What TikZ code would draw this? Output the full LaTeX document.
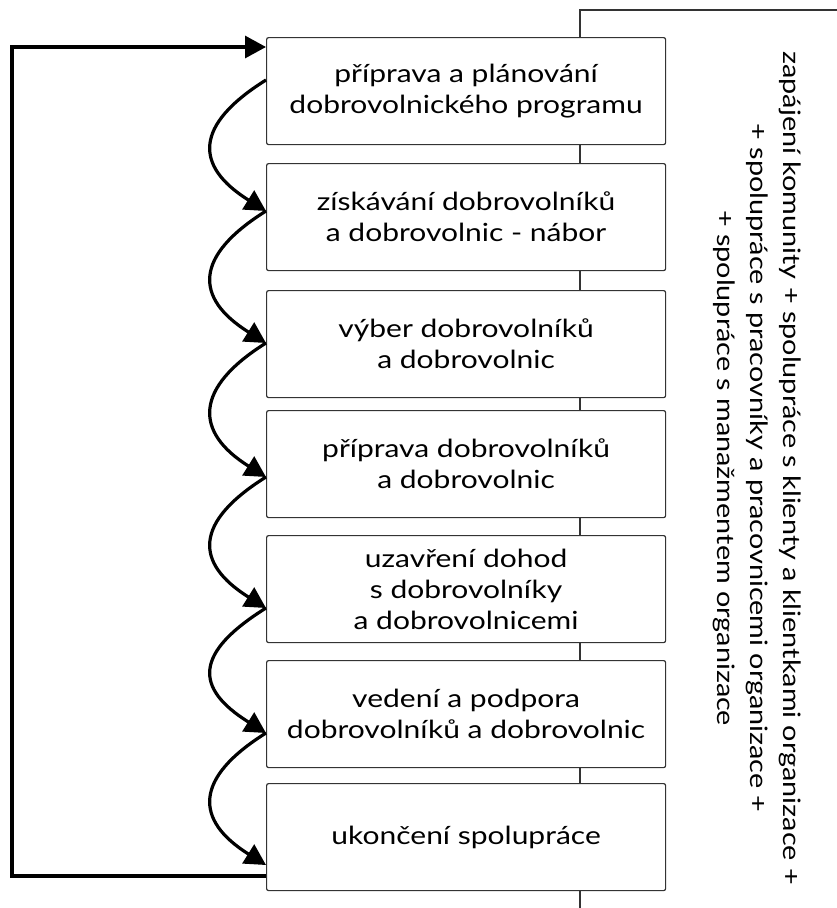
\documentclass[tikz,border=0pt]{standalone}
\usepackage{fontspec}
\setmainfont{Lato}[FakeStretch=1.2]
\usetikzlibrary{arrows.meta,calc}
\definecolor{edgegray}{HTML}{333333}
\tikzset{
  stepbox/.style={draw=edgegray, line width=1.2pt, rounded corners=2pt, fill=white,
    minimum width=399pt, minimum height=107pt, anchor=north west, align=center,
    inner sep=0pt, font=\fontsize{25}{31}\selectfont},
  flowarr/.style={line width=3.2pt, -{Triangle[length=21pt,width=22pt]}},
  thinline/.style={draw=edgegray, line width=1.2pt}
}
\begin{document}
\begin{tikzpicture}[x=1pt,y=1pt]
\useasboundingbox (0,0) rectangle (837,-908);
% right frame line
\coordinate (rtop) at (580,-10);
\coordinate (rcorner) at (837,-10);
\coordinate (rbot) at (580,-908);
\draw[thinline] (rcorner) -- (rtop) -- (rbot);
% boxes
\node[stepbox] (b1) at (266,-37) {příprava a plánování\\dobrovolnického programu};
\node[stepbox] (b2) at (266,-163) {získávání dobrovolníků\\a dobrovolnic - nábor};
\node[stepbox] (b3) at (266,-290) {výber dobrovolníků\\a dobrovolnic};
\node[stepbox] (b4) at (266,-410) {příprava dobrovolníků\\a dobrovolnic};
\node[stepbox] (b5) at (266,-535) {uzavření dohod\\s dobrovolníky\\a dobrovolnicemi};
\node[stepbox] (b6) at (266,-660) {vedení a podpora\\dobrovolníků a dobrovolnic};
\node[stepbox] (b7) at (266,-783) {ukončení spolupráce};
% arrow points
\coordinate (p1) at ($(b1.north west)+(0,-43)$);
\coordinate (p2) at ($(b2.north west)+(0,-48)$);
\coordinate (p3) at ($(b3.north west)+(0,-53)$);
\coordinate (p4) at ($(b4.north west)+(0,-67)$);
\coordinate (p5) at ($(b5.north west)+(0,-73)$);
\coordinate (p6) at ($(b6.north west)+(0,-73)$);
\coordinate (p7) at ($(b7.north west)+(0,-82)$);
\foreach \a/\b in {p1/p2,p2/p3,p3/p4,p4/p5,p5/p6,p6/p7}{
  \draw[flowarr] (\a) .. controls +(-72,-45) and +(-72,45) .. (\b);
}
% feedback loop
\coordinate (fbstart) at ($(b7.north west)+(0,-93)$);
\coordinate (fbend) at ($(b1.north west)+(0,-10)$);
\coordinate (fbl) at (12,0);
\draw[flowarr] (fbstart) -- (fbstart -| fbl) -- (fbend -| fbl) -- (fbend);
% rotated text
\node[rotate=-90, align=center, inner sep=0pt, font=\fontsize{24}{33}\selectfont] (side) at (757,-468)
 {zapájení komunity + spolupráce s klienty a klientkami organizace +\\
  + spolupráce s pracovníky a pracovnicemi organizace +\\
  + spolupráce s manažmentem organizace};
\end{tikzpicture}
\end{document}
